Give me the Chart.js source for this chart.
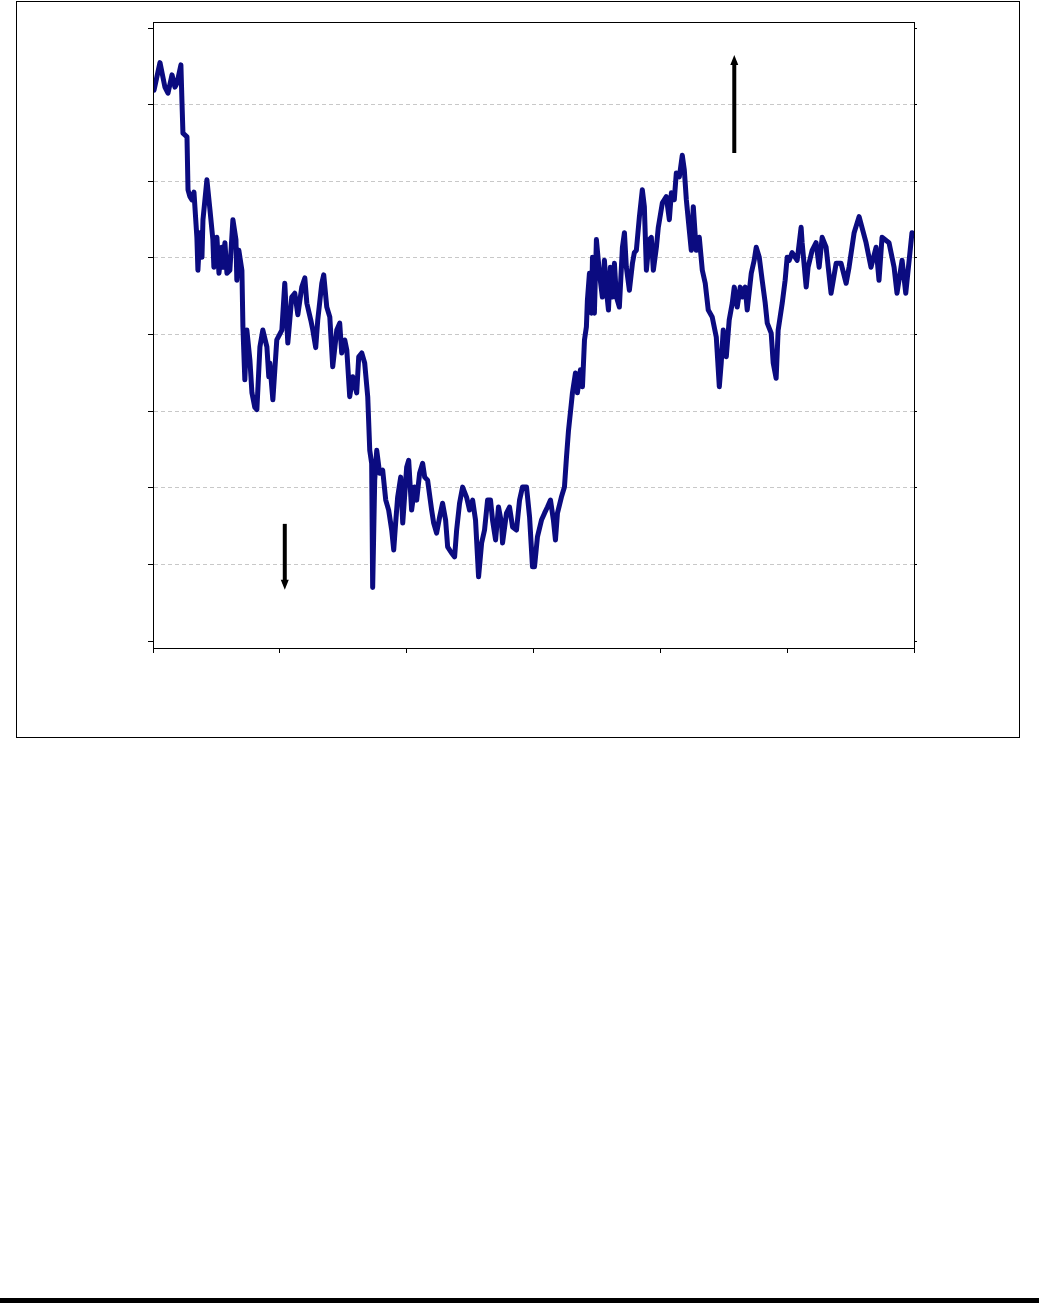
<!DOCTYPE html>
<html>
<head>
<meta charset="utf-8">
<script src="https://cdn.jsdelivr.net/npm/chart.js@4.4.1/dist/chart.umd.min.js"></script>
<style>
  body { margin: 0; background: #fff; width: 1039px; height: 1303px; position: relative; overflow: hidden; }
  #cadre { position: absolute; left: 16px; top: 1px; width: 1002px; height: 735px; border: 1px solid #000; }
  #zone { position: absolute; left: 0; top: 0; width: 1039px; height: 740px; }
  #pied { position: absolute; left: 0; top: 1298px; width: 1039px; height: 5px; background: #000; }
</style>
</head>
<body>
<div id="cadre"></div>
<div id="zone"><canvas id="serieChart" width="1039" height="740"></canvas></div>
<div id="pied"></div>
<script>
// valeurs (axe x 0..600, axe y 0..80)
const jours = [
  0.8, 5.5, 9.4, 11.8, 15.0, 17.3, 18.9, 22.0, 22.8, 23.6, 26.8, 27.6, 29.1, 30.7, 32.3, 34.6, 35.4, 37.0, 38.6, 39.4,
  42.5, 44.9, 47.2, 48.0, 50.4, 52.0, 54.3, 55.1, 56.7, 58.3, 60.6, 63.0, 65.4, 66.1, 67.7, 70.1, 70.9, 72.4, 74.0, 76.4,
  78.0, 80.3, 81.9, 84.3, 86.6, 89.8, 91.3, 92.1, 94.5, 97.6, 101.6, 103.9, 106.3, 109.4, 111.8, 114.2, 117.3, 119.7, 121.3, 124.4,
  126.0, 128.3, 129.9, 133.1, 134.6, 137.0, 139.4, 141.7, 144.9, 147.2, 148.8, 151.2, 152.8, 155.1, 157.5, 160.6, 162.2, 164.6, 166.9, 169.3,
  170.9, 172.4, 173.2, 174.8, 176.4, 178.7, 181.1, 183.5, 185.8, 188.2, 189.8, 191.3, 192.9, 195.3, 196.9, 200.0, 201.6, 203.9, 206.3, 207.9,
  210.2, 212.6, 214.2, 216.5, 219.7, 221.3, 223.6, 226.0, 228.3, 230.7, 232.3, 235.4, 237.8, 239.4, 241.7, 244.1, 247.2, 249.6, 252.0, 254.3,
  256.7, 259.1, 261.4, 263.8, 266.1, 267.7, 270.1, 272.4, 274.8, 275.6, 278.7, 281.1, 283.5, 286.6, 289.0, 291.3, 294.5, 296.9, 299.2, 300.8,
  303.1, 306.3, 308.7, 311.0, 313.4, 315.7, 317.3, 318.9, 322.0, 324.4, 326.0, 327.6, 329.9, 330.7, 333.1, 334.6, 337.0, 338.6, 340.2, 341.7,
  342.5, 344.1, 345.7, 346.5, 348.0, 349.6, 352.0, 354.3, 355.9, 357.5, 359.1, 360.6, 362.2, 363.8, 365.4, 367.7, 370.1, 371.7, 373.2, 375.6,
  378.0, 379.5, 381.1, 383.5, 385.8, 387.4, 389.0, 391.3, 392.9, 394.5, 396.9, 398.4, 401.6, 404.7, 407.1, 408.7, 411.0, 412.6, 415.0, 417.3,
  418.9, 420.5, 422.8, 424.4, 426.0, 428.3, 430.7, 433.1, 435.4, 437.8, 440.9, 444.1, 446.5, 448.0, 449.6, 452.0, 454.3, 456.7, 458.3, 460.6,
  463.0, 464.6, 466.9, 468.5, 471.7, 474.0, 475.6, 478.0, 480.3, 482.7, 484.3, 487.4, 489.0, 491.3, 492.9, 496.1, 498.4, 500.0, 501.6, 503.9,
  507.9, 511.0, 511.8, 515.0, 516.5, 519.7, 522.8, 525.2, 527.6, 530.7, 534.6, 538.6, 542.5, 546.5, 548.8, 552.8, 556.7, 562.2, 566.1, 570.1,
  572.4, 574.8, 580.3, 584.3, 586.6, 590.6, 593.5, 598.4
];
const niveaux = [
  71.9, 75.5, 72.3, 71.5, 73.9, 72.3, 72.8, 75.2, 70.6, 66.3, 65.8, 58.9, 58.0, 57.6, 58.6, 52.7, 48.4, 53.3, 50.1, 55.0,
  60.2, 56.3, 52.4, 48.8, 52.7, 48.0, 51.4, 48.8, 52.0, 48.0, 48.4, 55.0, 52.4, 47.1, 51.0, 48.4, 41.0, 34.1, 40.6, 36.7,
  32.4, 30.5, 30.2, 38.4, 40.6, 38.4, 34.5, 36.3, 31.5, 39.3, 40.6, 46.7, 38.9, 44.9, 45.4, 42.6, 46.2, 47.4, 44.1, 41.9,
  40.6, 38.3, 41.9, 46.7, 47.8, 43.6, 42.3, 35.8, 40.6, 41.5, 37.6, 39.3, 38.0, 31.9, 34.5, 32.4, 37.1, 37.6, 36.3, 31.9,
  24.9, 23.2, 7.0, 21.0, 24.9, 21.9, 22.3, 18.4, 17.1, 14.5, 11.9, 15.4, 18.8, 21.4, 15.4, 22.7, 23.6, 17.1, 20.1, 18.4,
  21.9, 23.2, 21.4, 21.0, 17.1, 15.4, 14.1, 16.2, 18.0, 15.8, 12.3, 11.5, 11.0, 14.5, 18.0, 20.1, 18.8, 17.1, 18.4, 15.8,
  8.4, 12.8, 14.5, 18.4, 18.4, 15.8, 13.2, 17.5, 15.4, 12.8, 16.7, 17.5, 14.9, 14.5, 18.4, 20.1, 20.1, 16.2, 9.7, 9.7,
  13.6, 15.8, 16.7, 17.5, 18.4, 15.8, 13.2, 16.7, 18.8, 20.1, 24.0, 27.5, 31.1, 32.4, 35.0, 32.4, 35.4, 33.2, 39.3, 41.0,
  44.5, 48.0, 42.8, 50.1, 42.8, 52.4, 48.0, 44.9, 49.7, 45.8, 43.2, 48.8, 44.9, 49.3, 44.9, 43.6, 51.4, 53.3, 48.8, 45.8,
  49.3, 50.7, 51.0, 55.4, 58.9, 56.7, 48.4, 52.4, 52.7, 48.4, 51.4, 54.0, 57.2, 58.0, 55.0, 58.5, 57.6, 61.1, 60.6, 63.4,
  61.5, 57.6, 53.7, 51.0, 56.7, 51.0, 52.7, 48.4, 46.7, 43.2, 42.3, 39.7, 33.2, 36.3, 40.6, 37.1, 41.9, 44.1, 46.2, 43.6,
  46.2, 44.9, 46.2, 43.2, 48.0, 49.7, 51.4, 50.1, 47.1, 44.1, 41.5, 40.2, 36.3, 34.3, 40.6, 44.1, 47.1, 50.1, 49.7, 50.7,
  49.7, 54.0, 52.0, 46.2, 48.8, 51.0, 52.0, 48.8, 52.7, 51.4, 45.4, 49.3, 49.3, 46.7, 48.8, 53.3, 55.4, 52.0, 48.8, 51.4,
  47.1, 52.7, 52.0, 48.8, 45.4, 49.7, 45.4, 53.3
];
const graduationsX = [0, 100, 200, 300, 400, 500, 600];
const graduationsY = [0, 10, 20, 30, 40, 50, 60, 70, 80];
// flèches : position x, départ y, arrivée y
const flecheX = [103.9, 458.3];
const flecheDepart = [15.3, 63.7];
const flecheArrivee = [6.7, 76.5];

const points = jours.map((j, i) => ({ x: j, y: niveaux[i] }));

const cadreZone = {
    id: 'cadreZone',
    afterDraw(chart) {
        const { ctx, chartArea: a, scales } = chart;
        ctx.save();
        ctx.strokeStyle = '#000';
        ctx.lineWidth = 1;
        ctx.strokeRect(a.left + 0.5, a.top + 0.5, a.right - a.left, a.bottom - a.top);

        // flèches
        ctx.fillStyle = '#000';
        ctx.lineWidth = 4;
        flecheX.forEach((fx, i) => {
            const px = scales.x.getPixelForValue(fx);
            const y0 = scales.y.getPixelForValue(flecheDepart[i]);
            const y1 = scales.y.getPixelForValue(flecheArrivee[i]);
            const sens = y1 > y0 ? 1 : -1;
            ctx.beginPath();
            ctx.moveTo(px, y0);
            ctx.lineTo(px, y1 - sens * 6);
            ctx.stroke();
            ctx.beginPath();
            ctx.moveTo(px - 4, y1 - sens * 10);
            ctx.lineTo(px + 4, y1 - sens * 10);
            ctx.lineTo(px, y1);
            ctx.closePath();
            ctx.fill();
        });
        ctx.restore();
    }
};

const grilleY = {
    display: true,
    color: ctx => (ctx.tick && ctx.tick.value > 0 && ctx.tick.value < 80) ? '#c8c8c8' : 'rgba(0,0,0,0)',
    tickColor: '#000',
    tickLength: 5,
    lineWidth: 1
};

new Chart(document.getElementById('serieChart').getContext('2d'), {
    type: 'line',
    data: {
        datasets: [{
            data: points,
            borderColor: '#0b0b80',
            borderWidth: 5,
            pointRadius: 0,
            tension: 0,
            borderJoinStyle: 'round',
            borderCapStyle: 'round'
        }]
    },
    options: {
        responsive: false,
        animation: false,
        events: [],
        layout: { padding: { left: 148, top: 22, right: 122, bottom: 87 } },
        plugins: { legend: { display: false }, tooltip: { enabled: false } },
        scales: {
            x: {
                type: 'linear',
                min: 0, max: 600,
                afterBuildTicks: s => { s.ticks = graduationsX.map(v => ({ value: v })); },
                ticks: { display: false },
                grid: { drawOnChartArea: false, tickColor: '#000', tickLength: 5 },
                border: { display: true, color: '#000', width: 1 }
            },
            y: {
                min: -0.9, max: 80.8,
                afterBuildTicks: s => { s.ticks = graduationsY.map(v => ({ value: v })); },
                ticks: { display: false },
                grid: grilleY,
                // en v4, le pointillé des lignes de grille se règle ici
                border: { display: true, color: '#000', width: 1, dash: [4, 3] }
            },
            y2: {
                position: 'right',
                min: -0.9, max: 80.8,
                afterBuildTicks: s => { s.ticks = graduationsY.map(v => ({ value: v })); },
                ticks: { display: false },
                grid: { drawOnChartArea: false, tickColor: '#000', tickLength: 3 },
                border: { display: true, color: '#000', width: 1 }
            }
        }
    },
    plugins: [cadreZone]
});
</script>
</body>
</html>
